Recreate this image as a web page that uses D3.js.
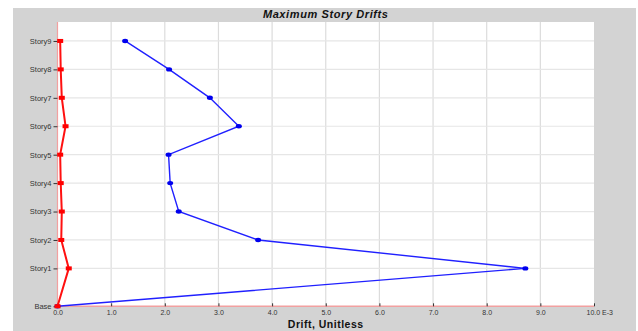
<!DOCTYPE html>
<html><head><meta charset="utf-8">
<script src="https://cdn.jsdelivr.net/npm/d3@7"></script>
<style>body{margin:0;background:#fff}svg{display:block}</style>
</head><body>
<script>
const stories = ["Base","Story1","Story2","Story3","Story4","Story5","Story6","Story7","Story8","Story9"];
const elevations = [0,4,7,10,13,16,19,22,25,28];
const driftBlue = [0,8.72,3.74,2.26,2.10,2.07,3.38,2.84,2.08,1.26];
const driftRed = [0,0.21,0.07,0.08,0.06,0.05,0.15,0.08,0.06,0.05];
const xTicks = [0,1,2,3,4,5,6,7,8,9,10];
const title = "Maximum Story Drifts";
const xTitle = "Drift, Unitless";

const W=638,H=331;
const svg=d3.select("body").append("svg").attr("width",W).attr("height",H);
svg.append("rect").attr("x",13).attr("y",8).attr("width",623).attr("height",323).attr("fill","#d3d3d3");
const L=57.5,R=594,T=22,B=306.3;
svg.append("rect").attr("x",L).attr("y",T).attr("width",R-L).attr("height",B-T).attr("fill","#fff");
const x=d3.scaleLinear().domain([0,10]).range([L,R]);
const y=d3.scaleLinear().domain([0,30]).range([B,T]);

// grid
svg.append("g").selectAll("line").data(xTicks.slice(1,-1)).join("line")
  .attr("x1",d=>x(d)).attr("x2",d=>x(d)).attr("y1",T).attr("y2",B)
  .attr("stroke","#dcdcdc").attr("stroke-width",1.2);
svg.append("g").selectAll("line").data(elevations.slice(1)).join("line")
  .attr("x1",L).attr("x2",R).attr("y1",d=>y(d)).attr("y2",d=>y(d))
  .attr("stroke","#e6e6e6").attr("stroke-width",1.2);

// borders
svg.append("line").attr("x1",L).attr("x2",R).attr("y1",B).attr("y2",B).attr("stroke","#f2a0a0").attr("stroke-width",1.5);
svg.append("line").attr("x1",L).attr("x2",L).attr("y1",T).attr("y2",B).attr("stroke","#f2a0a0").attr("stroke-width",1.2);

// x axis
const xa=d3.axisBottom(x).tickValues(xTicks).tickSize(-3).tickPadding(4)
  .tickFormat(d=>d3.format(".1f")(d));
const gx=svg.append("g").attr("transform",`translate(0,${B})`).call(xa);
gx.select(".domain").remove();
gx.selectAll(".tick line").attr("stroke","#333");
gx.selectAll("text").attr("font-family","Liberation Sans, Arial, sans-serif").attr("font-size",7).attr("fill","#333");
gx.selectAll(".tick").filter(d=>d===10).select("text").text("10.0 E-3").attr("text-anchor","start").attr("dx",-8);

// y axis
const ya=d3.axisLeft(y).tickValues(elevations).tickSize(4).tickPadding(2)
  .tickFormat((d,i)=>stories[i]);
const gy=svg.append("g").attr("transform",`translate(${L},0)`).call(ya);
gy.select(".domain").remove();
gy.selectAll(".tick line").attr("stroke","#333");
gy.selectAll("text").attr("font-family","Liberation Sans, Arial, sans-serif").attr("font-size",7.5).attr("fill","#333");

// lines
const line=d3.line().x(d=>x(d[0])).y(d=>y(d[1]));
const blue=driftBlue.map((v,i)=>[v,elevations[i]]);
const red=driftRed.map((v,i)=>[v,elevations[i]]);
svg.append("path").datum(blue).attr("d",line).attr("fill","none").attr("stroke","#2020ff").attr("stroke-width",1.4);
svg.append("g").selectAll("ellipse").data(blue).join("ellipse")
  .attr("cx",d=>x(d[0])).attr("cy",d=>y(d[1])).attr("rx",3).attr("ry",2.2).attr("fill","#0000ee");
svg.append("path").datum(red).attr("d",line).attr("fill","none").attr("stroke","#ff1010").attr("stroke-width",2);
svg.append("g").selectAll("rect").data(red).join("rect")
  .attr("x",d=>x(d[0])-3).attr("y",d=>y(d[1])-2).attr("width",6).attr("height",4).attr("fill","#ff0000");

// titles
svg.append("text").attr("x",(L+R)/2).attr("y",18).attr("text-anchor","middle")
  .attr("font-family","Liberation Sans, Arial, sans-serif").attr("font-size",11).attr("font-weight","bold").attr("font-style","italic")
  .attr("letter-spacing",0.6).attr("fill","#111").text(title);
svg.append("text").attr("x",(L+R)/2).attr("y",328).attr("text-anchor","middle")
  .attr("font-family","Liberation Sans, Arial, sans-serif").attr("font-size",10.5).attr("font-weight","bold")
  .attr("letter-spacing",0.5).attr("fill","#111").text(xTitle);
</script>
</body></html>
